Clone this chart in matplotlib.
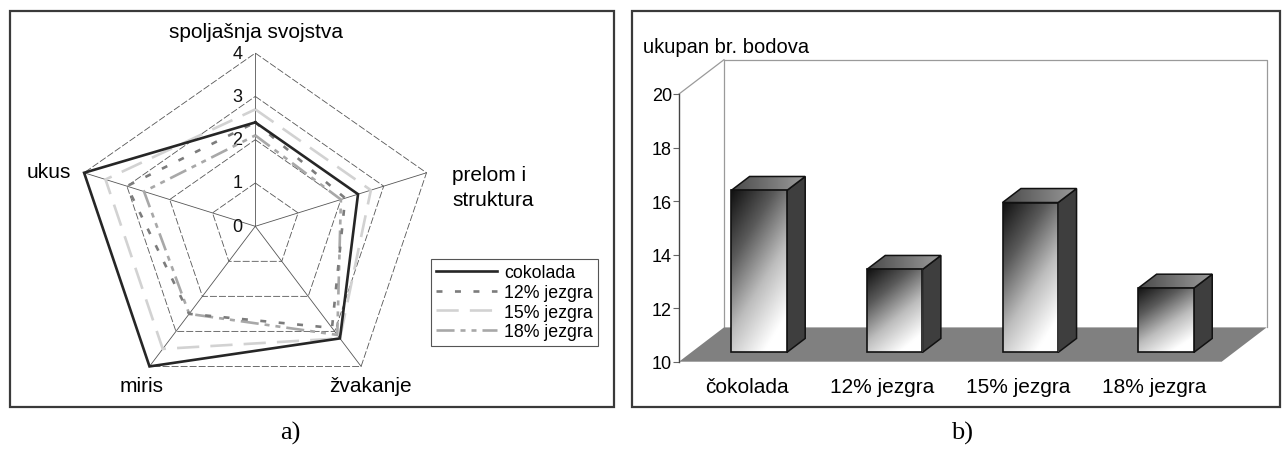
import numpy as np
import matplotlib
matplotlib.use("Agg")
import matplotlib.pyplot as plt
from matplotlib.patches import Rectangle, Polygon
from matplotlib.colors import LinearSegmentedColormap
from matplotlib.lines import Line2D

plt.rcParams['font.family'] = ['Liberation Sans', 'DejaVu Sans']
plt.rcParams['lines.scale_dashes'] = False

# ---------------- data ----------------
radar_axes = ["spoljašnja svojstva", "prelom i\nstruktura", "žvakanje", "miris", "ukus"]
radar_ticks = [0, 1, 2, 3, 4]
series_names = ["cokolada", "12% jezgra", "15% jezgra", "18% jezgra"]
cokolada = [2.4, 2.4, 3.2, 4.0, 4.0]
jezgra12 = [2.4, 2.1, 2.9, 2.5, 3.0]
jezgra15 = [2.7, 2.7, 3.2, 3.5, 3.5]
jezgra18 = [2.1, 2.0, 3.1, 2.5, 2.6]

bar_categories = ["čokolada", "12% jezgra", "15% jezgra", "18% jezgra"]
bar_values = [16.05, 13.1, 15.6, 12.4]
bar_yticks = [10, 12, 14, 16, 18, 20]
bar_ylabel = "ukupan br. bodova"

W, H = 1285, 452
fig = plt.figure(figsize=(W / 100, H / 100), dpi=100)


def fx(x):
    return x / W


def fy(y):
    return 1 - y / H


# panel frames
for (x0, y0, x1, y1) in [(10, 12, 614, 408), (632, 12, 1280, 408)]:
    fig.patches.append(Rectangle((fx(x0), fy(y1)), fx(x1) - fx(x0), fy(y0) - fy(y1),
                                 transform=fig.transFigure, fill=False,
                                 edgecolor='#3a3a3a', lw=1.6, zorder=0))

# ---------------- radar ----------------
cx, cy = 255.3, 227.3
kx, ky = 45.0, 43.3
rmax = 4
axr = fig.add_axes([fx(cx - rmax * kx), fy(cy + rmax * ky), 2 * rmax * kx / W, 2 * rmax * ky / H],
                   projection='polar')
axr.set_aspect('auto')
axr.set_theta_zero_location('N')
axr.set_theta_direction(-1)
axr.set_ylim(0, rmax)
axr.grid(False)
axr.spines['polar'].set_visible(False)
axr.set_xticks([])
axr.set_yticks([])
axr.patch.set_alpha(0)

n = len(radar_axes)
theta = np.arange(n) * 2 * np.pi / n
theta_c = np.append(theta, theta[0])

for r in radar_ticks[1:]:
    axr.plot(theta_c, [r] * (n + 1), color='#555555', lw=0.6,
             linestyle=(0, (5, 1.5)), zorder=1, clip_on=False)
for t in theta:
    axr.plot([t, t], [0, rmax], color='#555555', lw=0.6, zorder=1, clip_on=False)

for r in radar_ticks:
    axr.annotate(str(r), xy=(0, r), xytext=(-13, 0), textcoords='offset points',
                 ha='center', va='center', fontsize=13, color='#111111')

styles = [
    dict(color='#262626', lw=1.9, linestyle='-'),
    dict(color='#7c7c7c', lw=1.9, linestyle=(0, (4.3, 9.0))),
    dict(color='#d2d2d2', lw=1.9, linestyle=(0, (16, 8))),
    dict(color='#a8a8a8', lw=1.9, linestyle=(0, (13, 4.3, 3.6, 4.3, 3.6, 4.3))),
]
series = [cokolada, jezgra12, jezgra15, jezgra18]
order = [2, 3, 1, 0]
for i in order:
    vals = series[i]
    axr.plot(theta_c, list(vals) + [vals[0]], zorder=3 + (3 - i), clip_on=False,
             solid_joinstyle='miter', **styles[i])

# axis labels
lab_fs = 15
fig.text(fx(256), fy(33), radar_axes[0], ha='center', va='center', fontsize=lab_fs)
fig.text(fx(452), fy(188), radar_axes[1], ha='left', va='center', fontsize=lab_fs, linespacing=1.35)
fig.text(fx(370), fy(387), radar_axes[2], ha='center', va='center', fontsize=lab_fs)
fig.text(fx(142), fy(387), radar_axes[3], ha='center', va='center', fontsize=lab_fs)
fig.text(fx(49), fy(173), radar_axes[4], ha='center', va='center', fontsize=lab_fs)

handles = [Line2D([], [], **styles[i]) for i in range(4)]
leg = axr.legend(handles, series_names, loc='upper left',
                 bbox_to_anchor=(fx(431), fy(260)), bbox_transform=fig.transFigure,
                 borderaxespad=0, fontsize=12.8, handlelength=3.4, handletextpad=0.4,
                 labelspacing=0.15, borderpad=0.3, fancybox=False, framealpha=1,
                 edgecolor='#555555')
leg.get_frame().set_linewidth(0.8)

# ---------------- 3D-look bar chart ----------------
ax0, ay0, ax1, ay1 = 679, 362.7, 1221.7, 95
axb = fig.add_axes([fx(ax0), fy(ay0), (ax1 - ax0) / W, (ay0 - ay1) / H])
ncat = len(bar_categories)
ymin, ymax = bar_yticks[0], bar_yticks[-1]
px_x = (ax1 - ax0) / ncat
px_y = (ay0 - ay1) / (ymax - ymin)
DX, DY = 45 / px_x, 34.3 / px_y          # full depth offset in data units
fxo, fyo = 0.27 * DX, 0.27 * DY         # bar front-plane offset
bx, by = 18.4 / px_x, 14.0 / px_y       # bar depth
bw = 0.41

wall = '#9a9a9a'
floor = Polygon([(0, ymin), (ncat, ymin), (ncat + DX, ymin + DY), (DX, ymin + DY)],
                closed=True, facecolor='#808080', edgecolor='none', zorder=1, clip_on=False)
axb.add_patch(floor)
axb.plot([DX, DX, ncat + DX, ncat + DX], [ymin + DY, ymax + DY, ymax + DY, ymin + DY],
         color=wall, lw=0.9, zorder=0.5, clip_on=False)
axb.plot([0, DX], [ymax, ymax + DY], color=wall, lw=0.9, zorder=0.5, clip_on=False)

front_cmap = LinearSegmentedColormap.from_list('f', ['#101010', '#5a5a5a', '#bdbdbd', '#ffffff'])
top_cmap = LinearSegmentedColormap.from_list('t', ['#4a4a4a', '#9c9c9c'])
nn = 200
u = np.linspace(0, 1, nn)
U, V = np.meshgrid(u, u)
grad_front = np.clip(0.42 * U + 0.75 * V, 0, 1)

for i, v in enumerate(bar_values):
    x0 = i + 0.5 - bw / 2 + fxo
    x1 = x0 + bw
    y0 = ymin + fyo
    y1 = v + fyo
    side = Polygon([(x1, y0), (x1 + bx, y0 + by), (x1 + bx, y1 + by), (x1, y1)], closed=True,
                   facecolor='#3e3e3e', edgecolor='#111111', lw=1.1, zorder=3)
    axb.add_patch(side)
    top = Polygon([(x0, y1), (x1, y1), (x1 + bx, y1 + by), (x0 + bx, y1 + by)], closed=True,
                  facecolor='none', edgecolor='#111111', lw=1.1, zorder=4)
    axb.add_patch(top)
    imt = axb.imshow(np.tile(u, (10, 1)), extent=[x0, x1 + bx, y1, y1 + by], cmap=top_cmap,
                     aspect='auto', zorder=3, interpolation='bilinear', origin='upper')
    imt.set_clip_path(top)
    rect = axb.bar(i + 0.5 + fxo, v - ymin, width=bw, bottom=y0, facecolor='none',
                   edgecolor='#111111', lw=1.2, zorder=5)[0]
    im = axb.imshow(grad_front, extent=[x0, x1, y0, y1], cmap=front_cmap, aspect='auto',
                    zorder=4, interpolation='bilinear', origin='upper')
    im.set_clip_path(rect)

axb.set_xlim(0, ncat)
axb.set_ylim(ymin, ymax)
axb.set_aspect('auto')
axb.patch.set_alpha(0)
for s in ['top', 'right', 'bottom']:
    axb.spines[s].set_visible(False)
axb.spines['left'].set_color('#444444')
axb.spines['left'].set_linewidth(1.0)
axb.set_yticks(bar_yticks)
axb.set_yticklabels([str(t) for t in bar_yticks])
axb.tick_params(axis='y', length=4, color='#666666', labelsize=13, pad=1)
axb.set_xticks(np.arange(ncat) + 0.5)
axb.set_xticklabels(bar_categories)
axb.tick_params(axis='x', length=0, labelsize=15, pad=11)

fig.text(fx(643), fy(48), bar_ylabel, ha='left', va='center', fontsize=14.5)

# captions
fig.text(fx(290), fy(433), "a)", ha='center', va='center', fontsize=19,
         family=['Liberation Serif', 'DejaVu Serif'])
fig.text(fx(962), fy(433), "b)", ha='center', va='center', fontsize=19,
         family=['Liberation Serif', 'DejaVu Serif'])

fig.savefig("out.png", dpi=100)
